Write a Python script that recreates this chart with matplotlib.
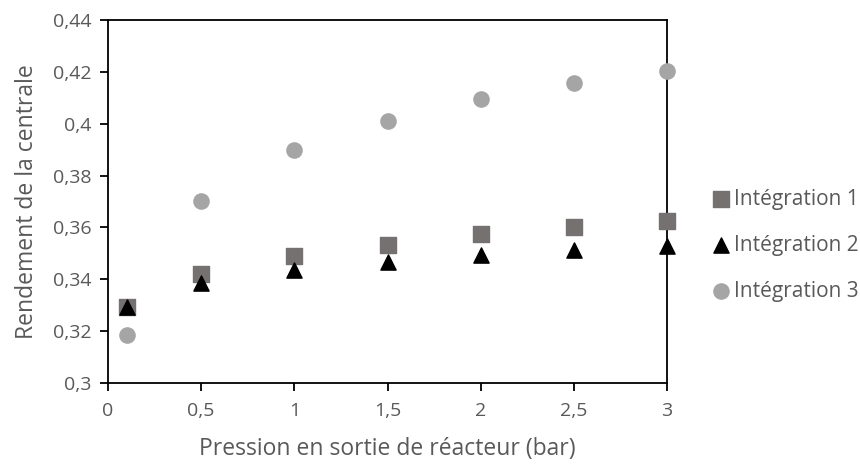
import matplotlib
matplotlib.use("Agg")
import matplotlib.pyplot as plt
import numpy as np

plt.rcParams['font.family'] = ['Open Sans', 'DejaVu Sans']

pression = [0.1, 0.5, 1, 1.5, 2, 2.5, 3]
integration_1 = [0.3295, 0.3421, 0.3491, 0.3533, 0.3574, 0.3600, 0.3626]
integration_2 = [0.3293, 0.3385, 0.3434, 0.3465, 0.3495, 0.3514, 0.3529]
integration_3 = [0.3186, 0.3703, 0.3899, 0.4012, 0.4097, 0.4156, 0.4203]

x_ticks = [0, 0.5, 1, 1.5, 2, 2.5, 3]
x_labels = ['0', '0,5', '1', '1,5', '2', '2,5', '3']
y_ticks = [0.30, 0.32, 0.34, 0.36, 0.38, 0.40, 0.42, 0.44]
y_labels = ['0,3', '0,32', '0,34', '0,36', '0,38', '0,4', '0,42', '0,44']

text_col = '#595959'

fig = plt.figure(figsize=(8.6, 4.65), dpi=100)
ax = fig.add_axes([0.1256, 0.1763, 0.6500, 0.7806])

ax.scatter(pression, integration_1, marker='s', s=120, color='#767171',
           label='Intégration 1', zorder=3, clip_on=False)
ax.scatter(pression, integration_2, marker='^', s=120, color='black',
           label='Intégration 2', zorder=4, clip_on=False)
ax.scatter(pression, integration_3, marker='o', s=120, color='#A5A5A5',
           label='Intégration 3', zorder=3, clip_on=False)

ax.set_xlim(0, 3)
ax.set_ylim(0.3, 0.44)
ax.set_xticks(x_ticks)
ax.set_xticklabels(x_labels)
ax.set_yticks(y_ticks)
ax.set_yticklabels(y_labels)

for sp in ax.spines.values():
    sp.set_color('black')
    sp.set_linewidth(1.3)
ax.tick_params(axis='both', colors='black', labelcolor=text_col,
               labelsize=14, length=6, width=1.3, direction='out')
ax.tick_params(axis='x', pad=8)
ax.tick_params(axis='y', pad=6)

ax.set_xlabel('Pression en sortie de réacteur (bar)', fontsize=16.5,
              color=text_col, labelpad=12)
ax.set_ylabel('Rendement de la centrale', fontsize=16.5, color=text_col,
              labelpad=10)

fig.legend(loc='center left', bbox_to_anchor=(0.826, 0.473), frameon=False,
           fontsize=15, labelcolor=text_col, handletextpad=0.15,
           labelspacing=1.2, markerscale=1.0, handlelength=1.0,
           borderaxespad=0, borderpad=0)

fig.savefig('out.png', dpi=100)
